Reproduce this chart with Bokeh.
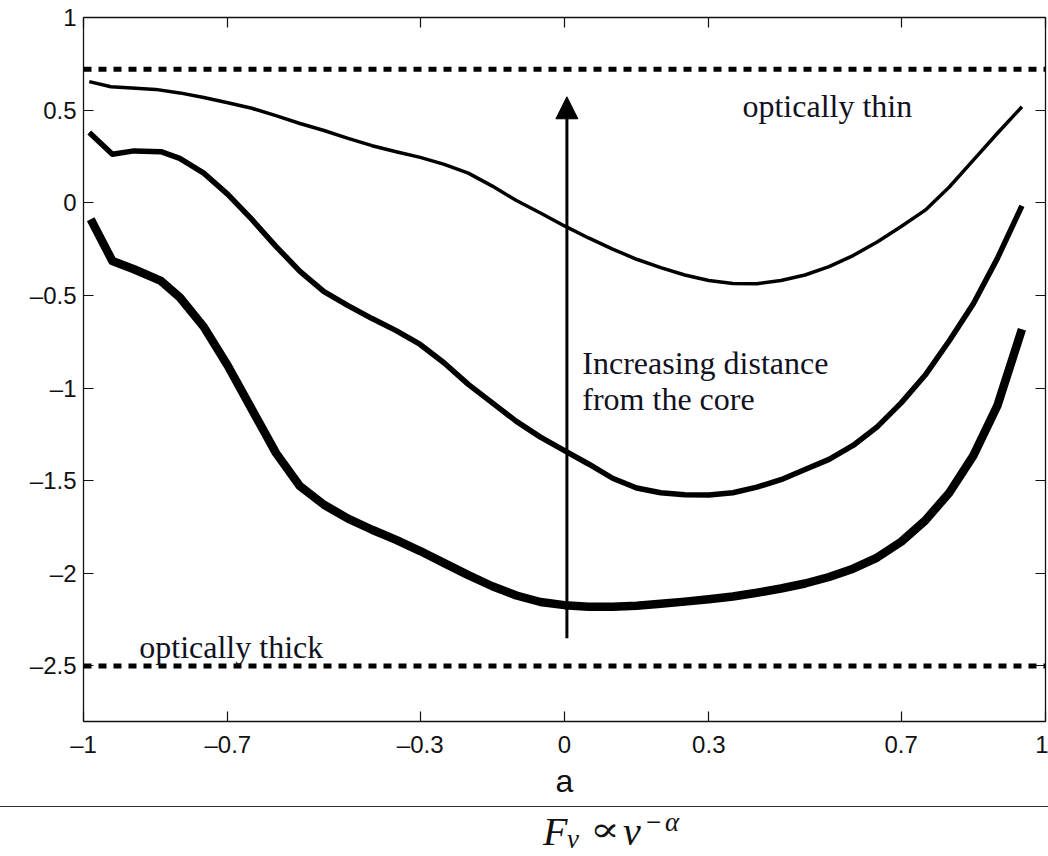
import math
from bokeh.plotting import figure
from bokeh.models import Range1d, FixedTicker, LinearAxis, Span, Arrow, NormalHead, Label, Div
from bokeh.layouts import column
from bokeh.embed import file_html
from bokeh.resources import INLINE

# ---------------- data ----------------
thin_a = [-0.988, -0.943, -0.90, -0.85, -0.80, -0.75, -0.70, -0.65, -0.60, -0.55,
          -0.50, -0.45, -0.40, -0.35, -0.30, -0.25, -0.20, -0.15, -0.10, -0.05,
          0.00, 0.05, 0.10, 0.15, 0.20, 0.25, 0.30, 0.35, 0.40, 0.45,
          0.50, 0.55, 0.60, 0.65, 0.70, 0.75, 0.80, 0.85, 0.90, 0.951]
thin_alpha = [0.654, 0.626, 0.620, 0.612, 0.593, 0.568, 0.540, 0.510, 0.470, 0.428,
              0.390, 0.348, 0.308, 0.275, 0.245, 0.207, 0.160, 0.090, 0.012, -0.055,
              -0.125, -0.190, -0.250, -0.305, -0.350, -0.390, -0.420, -0.436, -0.437, -0.420,
              -0.390, -0.345, -0.285, -0.212, -0.128, -0.040, 0.085, 0.230, 0.375, 0.518]

mid_a = [-0.988, -0.940, -0.895, -0.839, -0.80, -0.75, -0.70, -0.65, -0.60, -0.55,
         -0.50, -0.45, -0.40, -0.35, -0.30, -0.25, -0.20, -0.15, -0.10, -0.05,
         0.00, 0.05, 0.10, 0.15, 0.20, 0.25, 0.30, 0.35, 0.40, 0.45,
         0.50, 0.55, 0.60, 0.65, 0.70, 0.75, 0.80, 0.85, 0.90, 0.951]
mid_alpha = [0.379, 0.262, 0.280, 0.276, 0.240, 0.160, 0.045, -0.090, -0.235, -0.370,
             -0.480, -0.555, -0.625, -0.690, -0.765, -0.865, -0.980, -1.080, -1.180, -1.265,
             -1.338, -1.410, -1.487, -1.540, -1.565, -1.576, -1.578, -1.565, -1.535, -1.495,
             -1.440, -1.385, -1.310, -1.210, -1.080, -0.930, -0.745, -0.545, -0.300, -0.017]

thick_a = [-0.985, -0.940, -0.895, -0.839, -0.80, -0.75, -0.70, -0.65, -0.60, -0.55,
           -0.50, -0.45, -0.40, -0.35, -0.30, -0.25, -0.20, -0.15, -0.10, -0.05,
           0.00, 0.05, 0.10, 0.15, 0.20, 0.25, 0.30, 0.35, 0.40, 0.45,
           0.50, 0.55, 0.60, 0.65, 0.70, 0.75, 0.80, 0.85, 0.90, 0.951]
thick_alpha = [-0.089, -0.314, -0.359, -0.422, -0.510, -0.670, -0.880, -1.115, -1.350, -1.530,
               -1.630, -1.705, -1.765, -1.820, -1.880, -1.945, -2.010, -2.070, -2.120, -2.155,
               -2.172, -2.180, -2.180, -2.175, -2.165, -2.153, -2.140, -2.125, -2.105, -2.082,
               -2.055, -2.020, -1.975, -1.915, -1.830, -1.715, -1.565, -1.365, -1.095, -0.683]

x_ticks = [-1, -0.7, -0.3, 0, 0.3, 0.7, 1]
x_tick_labels = ["–1", "–0.7", "–0.3", "0", "0.3", "0.7", "1"]
y_ticks = [-2.5, -2, -1.5, -1, -0.5, 0, 0.5, 1]
y_tick_labels = ["–2.5", "–2", "–1.5", "–1", "–0.5", "0", "0.5", "1"]

optically_thin_level = 0.72
optically_thick_level = -2.5

arrow_a = 0.005
arrow_from = -2.35
arrow_to = 0.572

# ---------------- main figure ----------------
p = figure(width=1048, height=806, x_range=Range1d(-1, 1), y_range=Range1d(-2.8, 1),
           output_backend="svg", toolbar_location=None,
           min_border_left=83, min_border_right=3, min_border_top=17, min_border_bottom=85)
p.title.visible = False
p.grid.visible = False
p.outline_line_color = "#111111"
p.outline_line_width = 1.3
p.background_fill_color = "white"
p.border_fill_color = "white"

def style_axis(ax, ticks, labels, show_labels=True):
    ax.ticker = FixedTicker(ticks=ticks)
    ax.axis_line_color = None
    ax.major_tick_in = 10
    ax.major_tick_out = 0
    ax.minor_tick_in = 0
    ax.minor_tick_out = 0
    ax.major_tick_line_color = "#111111"
    ax.major_tick_line_width = 1.2
    if show_labels:
        ax.major_label_overrides = {t: l for t, l in zip(ticks, labels)}
        ax.major_label_text_font = "Liberation Sans"
        ax.major_label_text_font_size = "24px"
        ax.major_label_text_color = "#111111"
    else:
        ax.major_label_overrides = {t: "" for t in ticks}
        ax.major_label_text_font_size = "0px"
        ax.major_label_standoff = 0

xa = p.xaxis[0]
style_axis(xa, x_ticks, x_tick_labels)
xa.major_label_standoff = 9
xa.axis_label = "a"
xa.axis_label_text_font = "Liberation Sans"
xa.axis_label_text_font_style = "normal"
xa.axis_label_text_font_size = "32px"
xa.axis_label_text_color = "#111111"
xa.axis_label_standoff = 2

ya = p.yaxis[0]
style_axis(ya, y_ticks, y_tick_labels)
ya.major_label_standoff = 7

top_ax = LinearAxis()
style_axis(top_ax, x_ticks, x_tick_labels, show_labels=False)
p.add_layout(top_ax, "above")
right_ax = LinearAxis()
style_axis(right_ax, y_ticks, y_tick_labels, show_labels=False)
p.add_layout(right_ax, "right")

# optically thin / thick limits
for lvl in (optically_thin_level, optically_thick_level):
    p.add_layout(Span(location=lvl, dimension="width", line_color="black",
                      line_width=5, line_dash="8 7"))

# curves
p.line(thin_a, thin_alpha, line_color="black", line_width=3.5, line_join="round")
p.line(mid_a, mid_alpha, line_color="black", line_width=5.5, line_join="round")
p.line(thick_a, thick_alpha, line_color="black", line_width=8.5, line_join="round")

# arrow
p.add_layout(Arrow(end=NormalHead(size=22, fill_color="black", line_color="black", line_width=1),
                   x_start=arrow_a, y_start=arrow_from, x_end=arrow_a, y_end=arrow_to,
                   line_color="black", line_width=3))

serif = "Liberation Serif"
def note(x, y, t):
    p.add_layout(Label(x=x, y=y, text=t, text_font=serif, text_font_size="32px",
                       text_baseline="alphabetic", text_color="#111122"))

note(0.370, 0.523, "optically thin")
note(-0.884, -2.396, "optically thick")
note(0.037, -0.863, "Increasing distance")
note(0.037, -1.060, "from the core")

# y-axis label (alpha)
p.add_layout(Label(x=-1, y=-0.9, x_offset=-52, text="α", angle=math.pi / 2,
                   text_align="center", text_baseline="middle", text_font="Liberation Sans",
                   text_font_size="34px", text_color="#111111"))

# ---------------- separator line + caption ----------------
def piece(text, left, top, size, italic=True, font="'Liberation Serif',serif", extra=""):
    style = ("position:absolute;white-space:nowrap;left:%dpx;top:%.1fpx;font-size:%dpx;"
             "line-height:%dpx;font-family:%s;font-style:%s;%s"
             % (left, top, size, size, font, "italic" if italic else "normal", extra))
    return '<span style="%s">%s</span>' % (style, text)

caption_html = (
    '<div style="position:relative;width:1048px;height:50px;box-sizing:border-box;'
    'border-top:1.5px solid #333333;color:#111111;">'
    + piece("F", 543, 5.0, 40)
    + piece("ν", 567, 19.0, 27)
    + piece("∝", 590, 4.5, 34, italic=False, font="'DejaVu Serif',serif",
            extra="transform:scaleX(1.3);transform-origin:left;")
    + piece("ν", 623, 5.0, 40)
    + piece("−", 646, 1.5, 27, italic=False)
    + piece("α", 665, 1.5, 27)
    + '</div>'
)
caption = Div(text=caption_html, width=1048, height=50, margin=0)

layout = column(p, caption, spacing=0)
open("out.html", "w").write(file_html(layout, INLINE))
